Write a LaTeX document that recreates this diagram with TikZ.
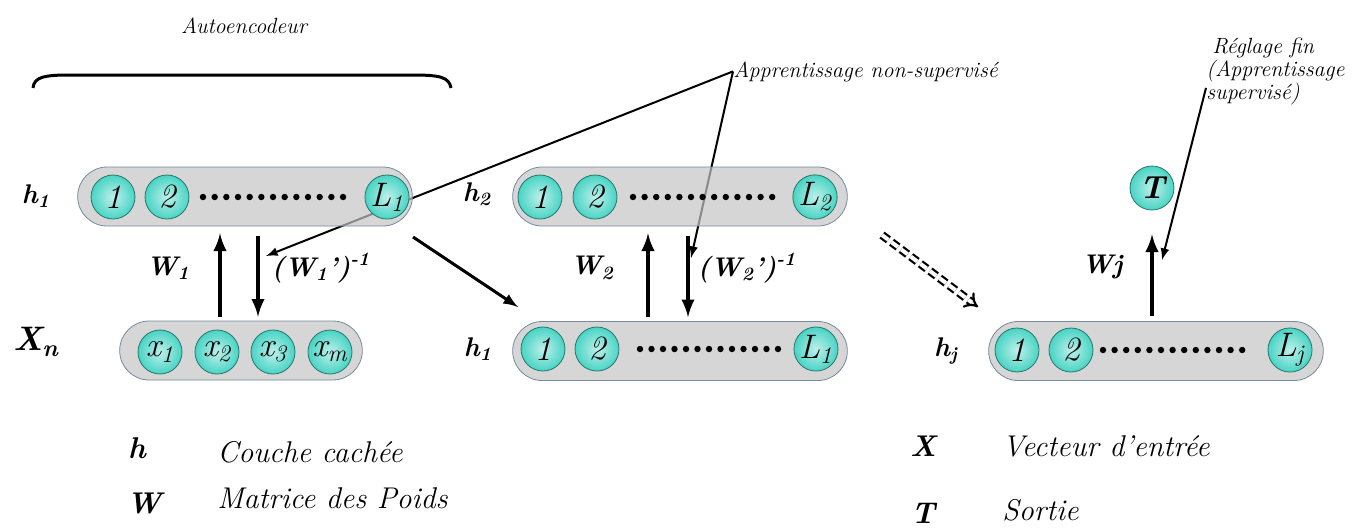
\documentclass[tikz,border=0pt]{standalone}
\usepackage{amsmath}
\usepackage[rgb]{xcolor}
\usepackage{tikz}
\usetikzlibrary{
  arrows,%
  shapes.misc,%
  positioning,%
  calc
}
\definecolor{unitcyan}{RGB}{72,212,196}
\definecolor{layergray}{RGB}{196,196,196}
\definecolor{layeredge}{RGB}{118,138,160}
\tikzset{>=latex}
\tikzset{
  layer/.style={rounded rectangle, draw=layeredge, thin, fill=layergray,
    fill opacity=0.7, minimum width=174pt, minimum height=29.5pt},
  unit/.style={circle, draw=unitcyan!55!black, thin, shading=radial,
    inner color=unitcyan!35, outer color=unitcyan, minimum size=22pt,
    inner sep=0pt, font=\fontsize{17}{17}\selectfont\itshape},
  lbl/.style={inner sep=0pt, font=\fontsize{13.5}{13.5}\selectfont\bfseries\itshape},
  note/.style={inner sep=0pt, font=\fontsize{11}{11.5}\selectfont\itshape},
  legend/.style={inner sep=0pt, font=\fontsize{15}{15}\selectfont\itshape},
  wght/.style={->, line width=2pt},
  ptr/.style={->, line width=1pt}
}

\begin{document}
\begin{tikzpicture}[x=0.5pt, y=-0.5pt]
  \useasboundingbox (0,0) rectangle (1366,527);
  % titles and brace
  \node[note] (autoenc) at (244,26) {Autoencodeur};
  \draw[line width=1.5pt] (33,88) .. controls (34,77) and (44,75) .. (70,75)
    -- (412,75) .. controls (440,75) and (449,77) .. (451,88);
  \node[note, anchor=base west] (unsup) at (733,77) {Apprentissage non-supervisé};
  \node[note, anchor=north west, align=left] (fine) at (1206,38)
    {\hspace{3pt}Réglage fin\\(Apprentissage\\supervisé)};
  % pointers (under the layers)
  \coordinate (tip1) at (266,256);
  \coordinate (tip2) at (691,258);
  \coordinate (tip3) at (1162,260);
  \draw[ptr] (unsup.west) -- (tip1);
  \draw[ptr] (unsup.west) -- (tip2);
  \draw[ptr] ([shift={(0,16)}]fine.west) -- (tip3);
  % layers
  \node[layer] (h1top) at (245,196.5) {};
  \node[layer] (h2top) at (680,196.5) {};
  \node[layer, minimum width=128pt] (xin) at (241,350.5) {};
  \node[layer] (h1bot) at (680,351) {};
  \node[layer] (hjbot) at (1156,351) {};
  % units
  \node[unit] (h1topa) at (113,197) {1};
  \node[unit] (h1topb) at (167,197) {2};
  \node[unit] (h1topl) at (387,197) {L\textsubscript{1}};
  \node[unit] (h2topa) at (540,197) {1};
  \node[unit] (h2topb) at (595,197) {2};
  \node[unit] (h2topl) at (815,197) {L\textsubscript{2}};
  \node[unit] (xina) at (160,352) {x\textsubscript{1}};
  \node[unit] (xinb) at (217,352) {x\textsubscript{2}};
  \node[unit] (xinc) at (273,352) {x\textsubscript{3}};
  \node[unit] (xinm) at (330,352) {x\textsubscript{m}};
  \node[unit] (h1bota) at (543,349) {1};
  \node[unit] (h1botb) at (597,349) {2};
  \node[unit] (h1botl) at (816,349) {L\textsubscript{1}};
  \node[unit] (hjbota) at (1017,350) {1};
  \node[unit] (hjbotb) at (1071,350) {2};
  \node[unit] (hjbotl) at (1290,350) {L\textsubscript{j}};
  \node[unit, font=\fontsize{16}{16}\selectfont\bfseries\itshape] (T) at (1152,188) {T};
  \foreach \i in {0,...,12} {
    \fill ({203+11.67*\i},197) circle (1.6pt);
    \fill ({633+11.6*\i},197) circle (1.6pt);
    \fill ({640+11.5*\i},349) circle (1.6pt);
    \fill ({1103+11.6*\i},350) circle (1.6pt);
  }
  % layer labels
  \node[lbl] (h1toplab) at (36,196) {h\textsubscript{1}};
  \node[lbl, font=\fontsize{17}{17}\selectfont\bfseries\itshape] (xinlab) at (36,342) {X\textsubscript{n}};
  \node[lbl] (h2toplab) at (477,194) {h\textsubscript{2}};
  \node[lbl] (h1botlab) at (478,349) {h\textsubscript{1}};
  \node[lbl] (hjbotlab) at (946,351) {h\textsubscript{j}};
  % weights
  \coordinate (w1u) at (220,0);
  \coordinate (w1d) at (258,0);
  \coordinate (w2u) at (648,0);
  \coordinate (w2d) at (688,0);
  \draw[wght, shorten <=2pt, shorten >=3.5pt] (xin.north -| w1u) -- (h1top.south -| w1u);
  \draw[wght, shorten <=5pt, shorten >=2pt] (h1top.south -| w1d) -- (xin.north -| w1d);
  \draw[wght, shorten <=2pt, shorten >=3.5pt] (h1bot.north -| w2u) -- (h2top.south -| w2u);
  \draw[wght, shorten <=5pt, shorten >=2pt] (h2top.south -| w2d) -- (h1bot.north -| w2d);
  \draw[wght, shorten <=2.5pt, shorten >=12pt] (hjbot.north -| T) -- (T);
  \node[lbl] (w1lab) at (168,268) {W\textsubscript{1}};
  \node[lbl] (w1ilab) at (321,268) {(W\textsubscript{1}’)\textsuperscript{-1}};
  \node[lbl] (w2lab) at (592,268) {W\textsubscript{2}};
  \node[lbl] (w2ilab) at (747,268) {(W\textsubscript{2}’)\textsuperscript{-1}};
  \node[lbl] (wjlab) at (1102,267) {Wj};
  % stacking
  \coordinate (d1s) at (413,237);
  \coordinate (d1e) at (518,307);
  \coordinate (d2s) at (882,235);
  \coordinate (d2e) at (978,307);
  \draw[->, line width=1.5pt] (d1s) -- (d1e);
  \draw[double, double distance=2pt, line width=1.1pt, dash pattern=on 4pt off 2pt, -implies] (d2s) -- (d2e);
  % legend
  \node[lbl, font=\fontsize{15}{15}\selectfont\bfseries\itshape, anchor=base] (keyh) at (137,458) {h};
  \node[legend, anchor=base west] (txth) at (217,462) {Couche cachée};
  \node[lbl, font=\fontsize{15}{15}\selectfont\bfseries\itshape, anchor=base] (keyw) at (144,513) {W};
  \node[legend, anchor=base west] (txtw) at (217,508) {Matrice des Poids};
  \node[lbl, font=\fontsize{15}{15}\selectfont\bfseries\itshape, anchor=base] (keyx) at (923,456) {X};
  \node[legend, anchor=base west] (txtx) at (1002,456) {Vecteur d’entrée};
  \node[lbl, font=\fontsize{15}{15}\selectfont\bfseries\itshape, anchor=base] (keyt) at (923,523) {T};
  \node[legend, anchor=base west] (txtt) at (1002,520) {Sortie};
\end{tikzpicture}
\end{document}
